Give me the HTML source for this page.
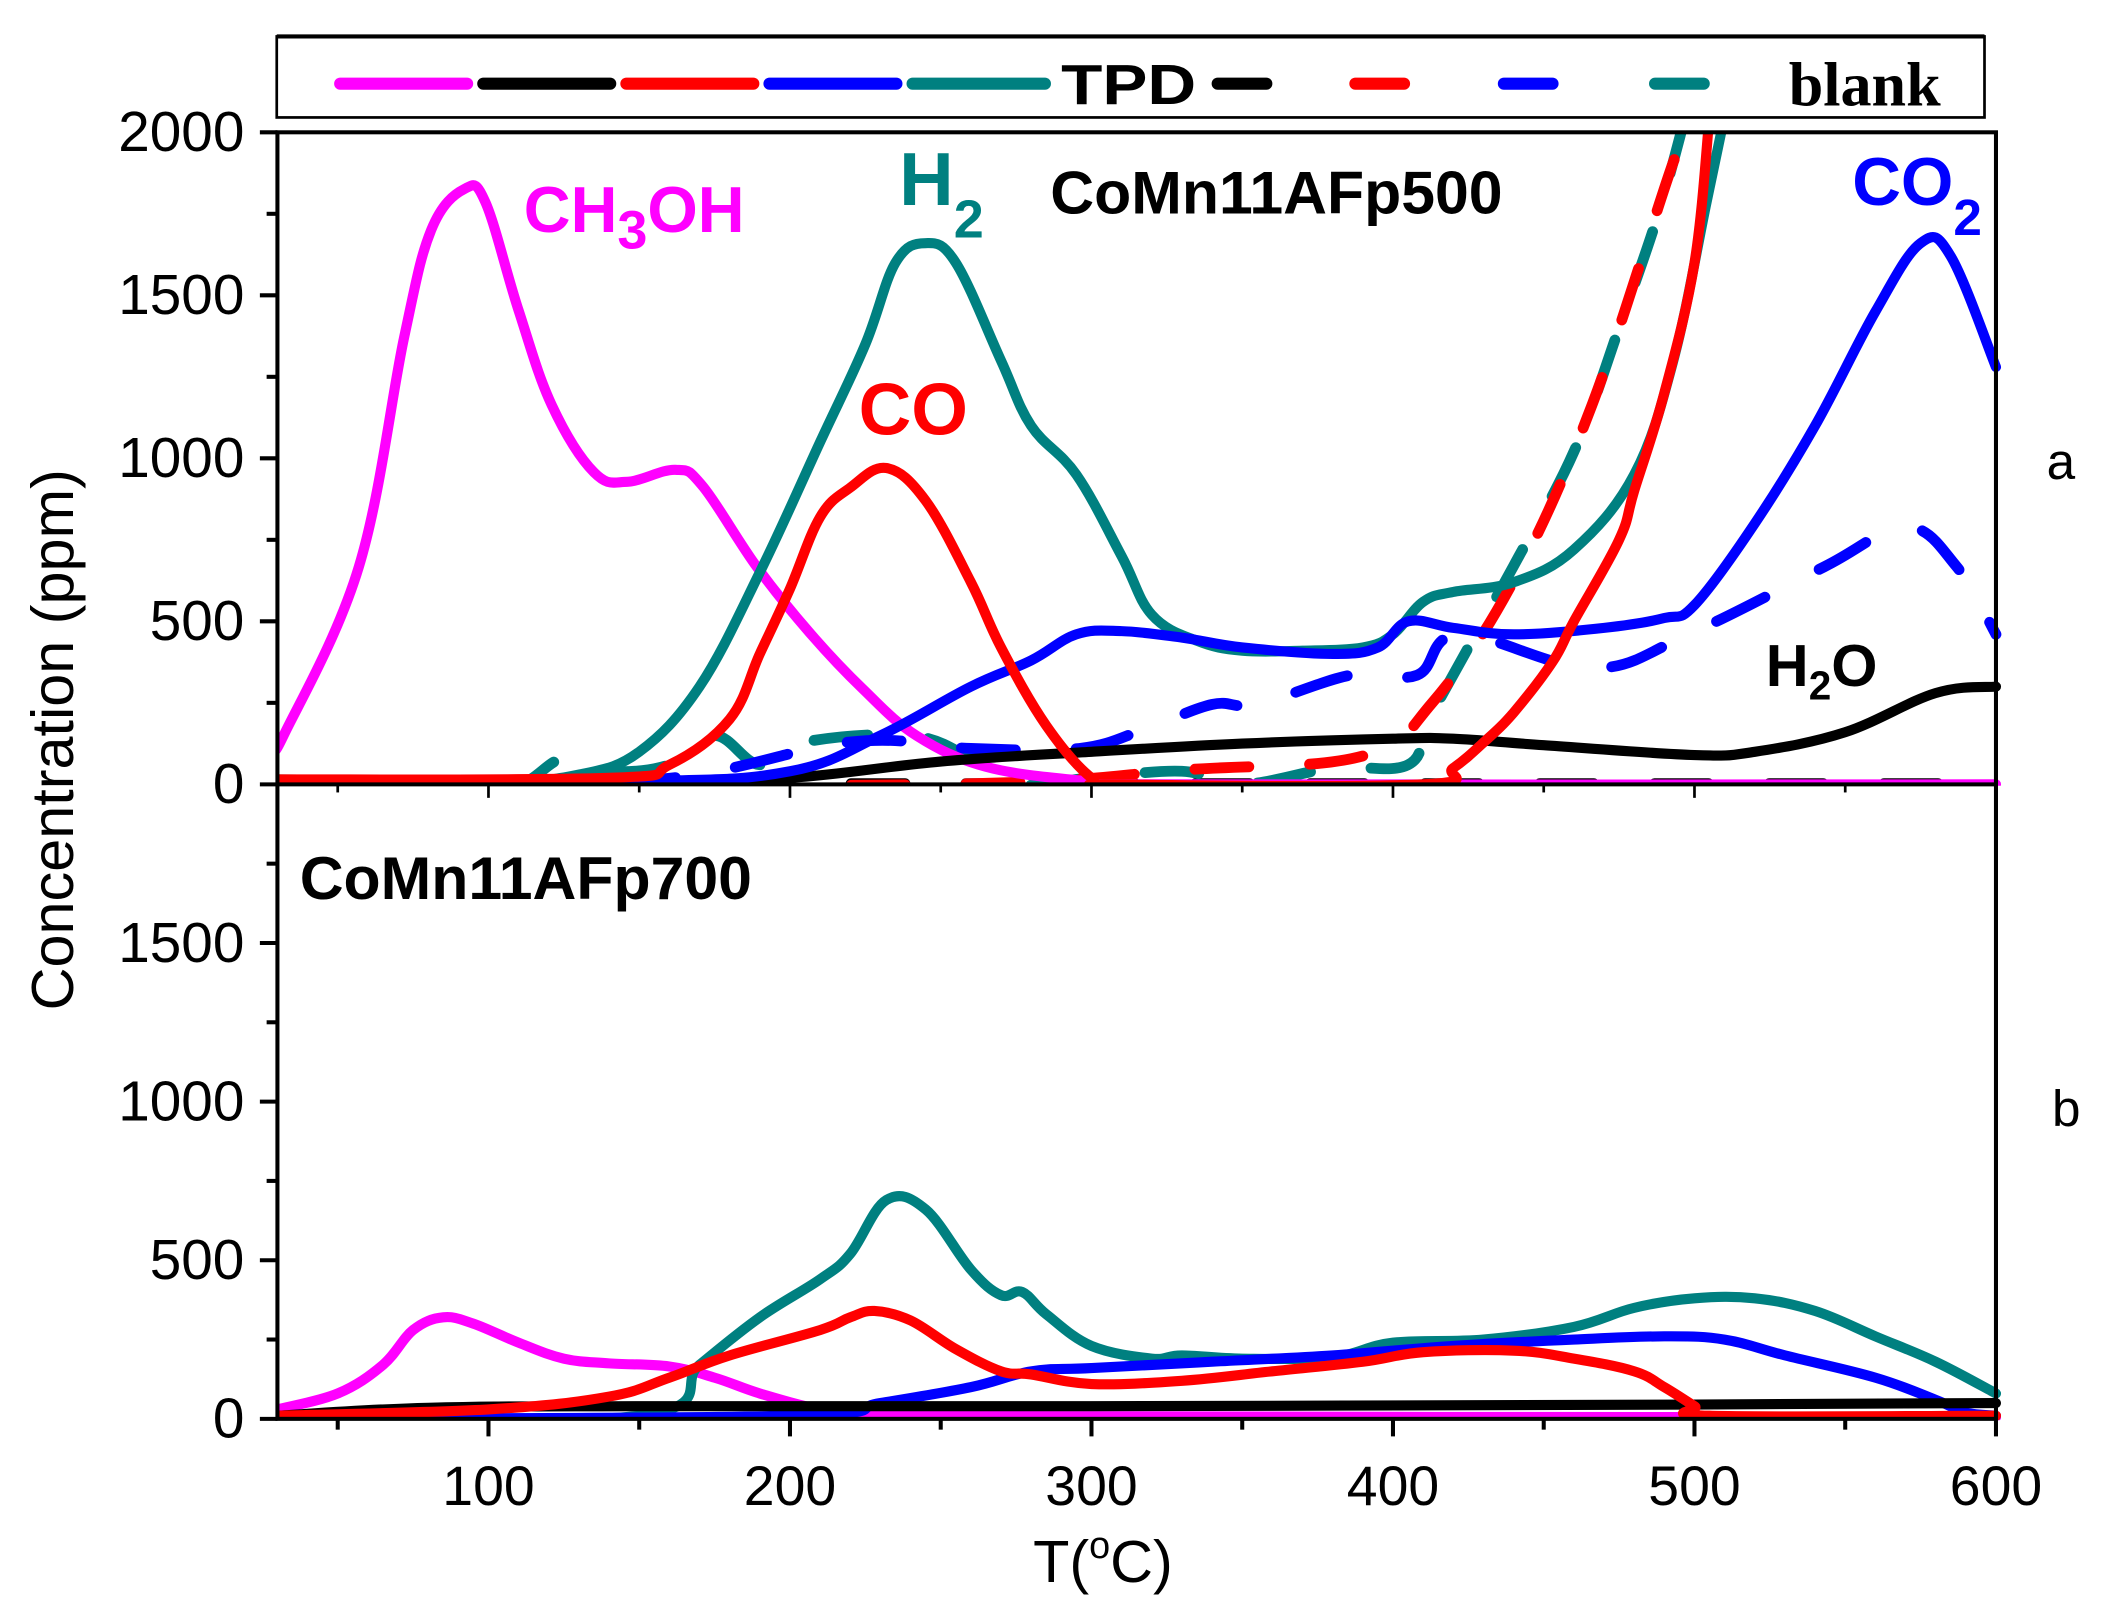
<!DOCTYPE html>
<html><head><meta charset="utf-8"><style>
html,body{margin:0;padding:0;background:#fff;}
svg{display:block;font-family:"Liberation Sans",sans-serif;}
</style></head><body>
<svg id="chart" width="2106" height="1615" viewBox="0 0 1560 1196.3" preserveAspectRatio="none" xmlns="http://www.w3.org/2000/svg">
<defs>
<clipPath id="clipTop"><rect x="205" y="98" width="1282" height="484"/></clipPath>
<clipPath id="clipBot"><rect x="205" y="581" width="1282" height="471"/></clipPath>
</defs>
<g id="legend">
<rect x="205" y="27" width="1265" height="60" fill="#fff" stroke="#000" stroke-width="2"/>
<line x1="205" y1="27" x2="1470" y2="27" stroke="#000" stroke-width="3"/>
<g stroke-width="9" stroke-linecap="round">
<line x1="252" y1="62" x2="346" y2="62" stroke="#ff00ff"/>
<line x1="358" y1="62" x2="452" y2="62" stroke="#000"/>
<line x1="464" y1="62" x2="558" y2="62" stroke="#ff0000"/>
<line x1="570" y1="62" x2="664" y2="62" stroke="#0000ff"/>
<line x1="676" y1="62" x2="774" y2="62" stroke="#008080"/>
<line x1="902" y1="62" x2="938" y2="62" stroke="#000"/>
<line x1="1004" y1="62" x2="1040" y2="62" stroke="#ff0000"/>
<line x1="1114" y1="62" x2="1150" y2="62" stroke="#0000ff"/>
<line x1="1226" y1="62" x2="1262" y2="62" stroke="#008080"/>
</g>
<text x="786" y="77" font-size="42" font-weight="bold" textLength="100" lengthAdjust="spacingAndGlyphs">TPD</text>
<text x="1325" y="78" font-size="46" font-weight="bold" font-family="Liberation Serif,serif">blank</text>
</g>
<g id="series-top" clip-path="url(#clipTop)"></g>
<g id="series-bot" clip-path="url(#clipBot)"></g>
<g id="axes"></g>
<g font-weight="bold">
<text x="388" y="172" font-size="48" fill="#ff00ff">CH<tspan font-size="40" dy="12">3</tspan><tspan dy="-12">OH</tspan></text>
<text x="666" y="152" font-size="56" fill="#008080">H<tspan font-size="40" dy="24">2</tspan></text>
<text x="778" y="158" font-size="45" fill="#000">CoMn11AFp500</text>
<text x="636" y="322" font-size="54" fill="#ff0000">CO</text>
<text x="1372" y="152" font-size="50" fill="#0000ff">CO<tspan font-size="38" dy="22">2</tspan></text>
<text x="1308" y="508" font-size="44" fill="#000">H<tspan font-size="30" dy="10">2</tspan><tspan dy="-10">O</tspan></text>
<text x="1516" y="355" font-size="38" font-weight="normal">a</text>
<text x="1520" y="834" font-size="38" font-weight="normal">b</text>
<text x="222" y="666" font-size="45" fill="#000">CoMn11AFp700</text>
</g>
<text x="0" y="0" font-size="44" text-anchor="middle" transform="translate(54,548) rotate(-90)">Concentration (ppm)</text>
<text x="817" y="1172" font-size="44" text-anchor="middle">T(<tspan font-size="28" dy="-18">o</tspan><tspan dy="18">C)</tspan></text>
</svg>
<script>
// ---- data (T in °C, values in ppm) ----
const xTicks = [100, 200, 300, 400, 500, 600];
const yTicksTop = [0, 500, 1000, 1500, 2000];
const yTicksBot = [0, 500, 1000, 1500];
// Top panel (CoMn11AFp500) TPD
const topCH3OH_T = [30,32,57,72,81,92,99,110,121,135,146,162,171,189,207,224,242,265,296,320,600];
const topCH3OH_V = [140,149,667,1370,1700,1826,1785,1453,1163,957,928,965,915,667,460,294,149,54,12,0,0];
const topH2O_T = [30,150,200,250,300,350,400,420,450,500,520,550,580,600];
const topH2O_V = [15,10,20,70,100,125,140,140,120,90,100,160,280,300];
const topCO_T = [30,140,160,180,190,200,210,220,232,245,260,270,285,300,310,410,420,430,440,453,460,475,480,490,500,505];
const topCO_V = [15,20,60,200,400,600,820,910,970,870,620,420,180,20,0,0,50,128,220,377,500,750,900,1200,1600,2050];
const topCO2_T = [30,150,200,230,260,280,295,310,330,350,380,395,405,420,440,470,490,500,520,540,560,575,585,600];
const topCO2_V = [10,10,40,150,300,380,460,470,450,420,400,420,500,480,460,480,510,550,800,1100,1450,1660,1620,1280];
const topH2_T = [30,100,130,150,170,190,210,225,235,245,255,270,280,295,310,320,335,350,370,390,400,410,420,440,460,480,493,504,510];
const topH2_V = [10,5,30,100,300,650,1050,1350,1600,1660,1600,1300,1100,950,700,520,440,410,410,420,460,560,590,620,720,950,1300,1785,2050];
// Top panel blank
const blankH2O_T = [30,600];
const blankH2O_V = [2,2];
const blankCO_T = [30,250,332,390,413,440,466,493,500];
const blankCO_V = [0,0,45,87,250,625,1163,1909,2050];
const blankCO2_T = [30,150,220,260,296,318,340,355,386,408,422,466,498,543,570,587,600];
const blankCO2_V = [10,10,130,110,110,170,245,245,335,335,460,356,460,667,790,667,460];
const blankH2_T = [30,90,110,125,140,160,175,190,205,240,260,275,300,330,350,380,405,412,425,440,460,475,488,497];
const blankH2_V = [10,10,0,80,40,60,150,60,130,150,80,0,20,40,0,50,60,200,420,670,1020,1400,1750,2050];
// Bottom panel (CoMn11AFp700) TPD
const botCH3OH_T = [30,50,65,75,85,95,110,125,140,160,175,190,210,230,600];
const botCH3OH_V = [30,80,170,280,320,300,240,190,175,165,130,80,30,10,5];
const botH2O_T = [30,80,150,300,500,600];
const botH2O_V = [10,35,40,40,45,50];
const botCO_T = [30,100,140,160,180,210,220,228,240,255,270,280,300,330,360,390,410,440,460,480,490,500,505,600];
const botCO_V = [10,30,70,130,200,280,320,340,310,220,150,140,110,120,150,180,210,215,190,150,100,40,10,10];
const botCO2_T = [30,200,230,260,280,300,340,380,420,460,490,510,530,560,580,590,600];
const botCO2_V = [0,10,50,100,150,160,180,200,230,250,260,250,200,130,60,20,10];
const botH2_T = [30,150,170,190,210,220,232,245,260,270,277,285,300,320,330,350,380,400,430,460,480,500,520,540,560,580,600];
const botH2_V = [0,10,170,320,440,520,690,660,470,390,400,330,230,190,200,190,195,240,250,290,350,380,380,340,260,180,80];

// ---- axes functions ----
const X0=205.5, X1=1478.5, TMIN=30, TMAX=600;
function xs(t){return X0+(t-TMIN)*(X1-X0)/(TMAX-TMIN);}
function yTop(v){return 581 - v*(581-98)/2000;}
function yBot(v){return 1051 - v*(1051-581)/2000;}
const NS='http://www.w3.org/2000/svg';
function mk(tag,attrs,parent){const e=document.createElementNS(NS,tag);for(const k in attrs)e.setAttribute(k,attrs[k]);parent.appendChild(e);return e;}
function pathD(T,V,yf){
  const P=T.map((t,i)=>[xs(t),yf(V[i])]);
  let d='M'+P[0][0].toFixed(1)+','+P[0][1].toFixed(1);
  const k=0.18;
  for(let i=0;i<P.length-1;i++){
    const p0=P[Math.max(0,i-1)],p1=P[i],p2=P[i+1],p3=P[Math.min(P.length-1,i+2)];
    const c1=[p1[0]+(p2[0]-p0[0])*k,p1[1]+(p2[1]-p0[1])*k];
    const c2=[p2[0]-(p3[0]-p1[0])*k,p2[1]-(p3[1]-p1[1])*k];
    d+=' C'+c1[0].toFixed(1)+','+c1[1].toFixed(1)+' '+c2[0].toFixed(1)+','+c2[1].toFixed(1)+' '+p2[0].toFixed(1)+','+p2[1].toFixed(1);
  }
  return d;
}

const gTop=document.getElementById('series-top');
const gBot=document.getElementById('series-bot');
function line(g,T,V,yf,color,dashed,name){
  const p=mk('path',{d:pathD(T,V,yf),fill:'none',stroke:color,'stroke-width':dashed?8:7.5,'stroke-linejoin':'round','stroke-linecap':'round'},g);
  if(dashed){p.setAttribute('stroke-dasharray','40 45');}
  
  
}
line(gTop,blankH2O_T,blankH2O_V,yTop,'#000',true,'a-h2o-blank');
line(gTop,blankH2_T,blankH2_V,yTop,'#008080',true,'a-h2-blank');
line(gTop,blankCO2_T,blankCO2_V,yTop,'#0000ff',true,'a-co2-blank');
line(gTop,blankCO_T,blankCO_V,yTop,'#ff0000',true,'a-co-blank');
line(gTop,topCH3OH_T,topCH3OH_V,yTop,'#ff00ff',false,'a-ch3oh-tpd');
line(gTop,topH2O_T,topH2O_V,yTop,'#000',false,'a-h2o-tpd');
line(gTop,topH2_T,topH2_V,yTop,'#008080',false,'a-h2-tpd');
line(gTop,topCO2_T,topCO2_V,yTop,'#0000ff',false,'a-co2-tpd');
line(gTop,topCO_T,topCO_V,yTop,'#ff0000',false,'a-co-tpd');
line(gBot,botCH3OH_T,botCH3OH_V,yBot,'#ff00ff',false,'b-ch3oh-tpd');
line(gBot,botH2_T,botH2_V,yBot,'#008080',false,'b-h2-tpd');
line(gBot,botCO2_T,botCO2_V,yBot,'#0000ff',false,'b-co2-tpd');
line(gBot,botH2O_T,botH2O_V,yBot,'#000',false,'b-h2o-tpd');
line(gBot,botCO_T,botCO_V,yBot,'#ff0000',false,'b-co-tpd');

// axes frame
const ax=document.getElementById('axes');
mk('rect',{x:X0,y:98,width:X1-X0,height:953,fill:'none',stroke:'#000','stroke-width':3},ax);
mk('line',{x1:X0,y1:581,x2:X1,y2:581,stroke:'#000','stroke-width':3},ax);
// x ticks
for(let t=50;t<=600;t+=50){
  const major=(t%100===0);
  const tk=mk('line',{x1:xs(t),y1:1051,x2:xs(t),y2:1051+(major?13:8),stroke:'#000','stroke-width':3},ax);
  
  
  mk('line',{x1:xs(t),y1:581,x2:xs(t),y2:581+(major?10:6),stroke:'#000','stroke-width':2},ax);
}
xTicks.forEach(t=>{
  const tx=mk('text',{x:xs(t),y:1115,'font-size':41,'text-anchor':'middle'},ax);
  tx.textContent=t;
  
  
});
// y ticks
for(let v=0;v<=2000;v+=250){
  const major=(v%500===0);
  mk('line',{x1:X0,y1:yTop(v),x2:X0-(major?13:8),y2:yTop(v),stroke:'#000','stroke-width':3},ax);
  if(v<2000) mk('line',{x1:X0,y1:yBot(v),x2:X0-(major?13:8),y2:yBot(v),stroke:'#000','stroke-width':3},ax);
}
yTicksTop.forEach(v=>{
  const tx=mk('text',{x:181,y:yTop(v)+14,'font-size':42,'text-anchor':'end'},ax);
  tx.textContent=v;
  
  
});
yTicksBot.forEach(v=>{
  const tx=mk('text',{x:181,y:yBot(v)+14,'font-size':42,'text-anchor':'end'},ax);
  tx.textContent=v;
  
  
});
</script>
</body></html>
